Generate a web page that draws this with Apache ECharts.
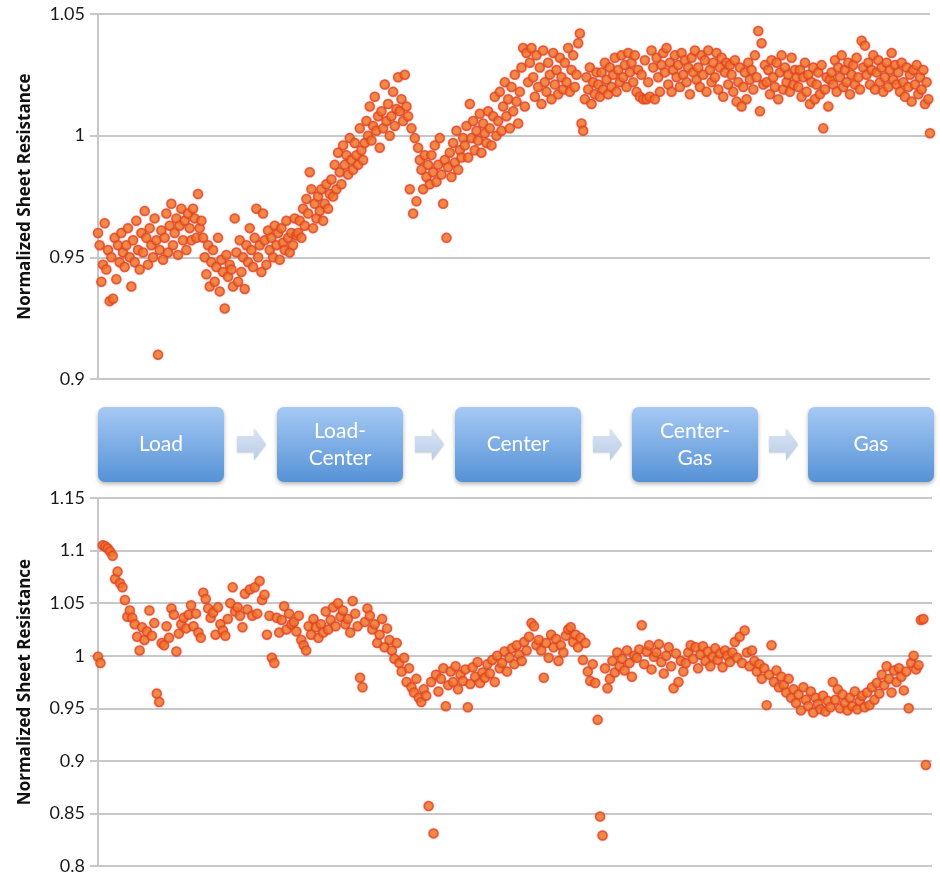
<!DOCTYPE html>
<html>
<head>
<meta charset="utf-8">
<script src="https://cdn.jsdelivr.net/npm/echarts@6/dist/echarts.min.js"></script>
<style>
  html, body { margin: 0; padding: 0; background: #ffffff; }
  #chart { width: 940px; height: 879px; }
</style>
</head>
<body>
<div id="chart"></div>
<script>
// Sheet resistance (normalized) through the process sequence, two runs.
const axisTitle = 'Normalized Sheet Resistance';
const stages = ['Load', 'Load-\nCenter', 'Center', 'Center-\nGas', 'Gas'];

const topTicks = [0.9, 0.95, 1, 1.05];
const bottomTicks = [0.8, 0.85, 0.9, 0.95, 1, 1.05, 1.1, 1.15];

// Run 1 samples, in acquisition order
const run1Values = [
  0.960, 0.955, 0.940, 0.947, 0.964, 0.945, 0.953, 0.932, 0.950, 0.933, 0.958, 0.941, 0.955, 0.948, 0.960, 0.952, 0.946, 0.955, 0.962, 0.950,
  0.938, 0.957, 0.948, 0.965, 0.953, 0.945, 0.960, 0.952, 0.969, 0.958, 0.947, 0.962, 0.955, 0.950, 0.966, 0.957, 0.910, 0.953, 0.961, 0.949,
  0.958, 0.968, 0.952, 0.963, 0.972, 0.955, 0.960, 0.966, 0.951, 0.963, 0.970, 0.957, 0.965, 0.953, 0.968, 0.962, 0.957, 0.970, 0.966, 0.958,
  0.976, 0.962, 0.965, 0.958, 0.950, 0.943, 0.955, 0.938, 0.948, 0.953, 0.940, 0.946, 0.958, 0.936, 0.949, 0.944, 0.929, 0.951, 0.942, 0.947,
  0.945, 0.938, 0.966, 0.952, 0.940, 0.957, 0.944, 0.950, 0.937, 0.955, 0.948, 0.962, 0.953, 0.946, 0.958, 0.970, 0.950, 0.955, 0.944, 0.968,
  0.957, 0.947, 0.961, 0.953, 0.958, 0.950, 0.963, 0.955, 0.960, 0.949, 0.962, 0.956, 0.953, 0.965, 0.958, 0.952, 0.960, 0.955, 0.966, 0.959,
  0.960, 0.965, 0.958, 0.970, 0.963, 0.974, 0.968, 0.985, 0.978, 0.962, 0.972, 0.966, 0.975, 0.969, 0.978, 0.965, 0.972, 0.980, 0.970, 0.976,
  0.982, 0.975, 0.988, 0.978, 0.993, 0.985, 0.980, 0.996, 0.988, 0.992, 0.984, 0.999, 0.990, 0.986, 0.997, 0.992, 0.988, 1.003, 0.994, 0.990,
  0.997, 1.006, 1.000, 1.012, 0.998, 1.004, 1.016, 1.002, 1.008, 0.995, 1.010, 1.003, 1.021, 1.006, 1.013, 1.000, 1.008, 1.018, 1.004, 1.011,
  1.024, 1.010, 1.015, 1.006, 1.025, 1.012, 1.008, 0.978, 1.003, 0.968, 0.999, 0.973, 0.995, 0.990, 0.986, 0.978, 0.992, 0.983, 0.988, 0.980,
  0.992, 0.985, 0.996, 0.981, 0.988, 0.999, 0.984, 0.972, 0.990, 0.958, 0.987, 0.993, 0.983, 0.997, 0.989, 1.002, 0.986, 0.994, 0.991, 0.999,
  0.996, 1.004, 0.991, 1.013, 0.999, 1.006, 0.994, 1.002, 0.998, 1.009, 0.993, 1.005, 1.001, 0.997, 1.010, 1.003, 0.996, 1.008, 1.016, 1.000,
  1.006, 1.018, 1.002, 1.012, 1.022, 1.008, 1.015, 1.003, 1.020, 1.010, 1.025, 1.014, 1.005, 1.018, 1.028, 1.036, 1.012, 1.034, 1.022, 1.030,
  1.036, 1.024, 1.016, 1.033, 1.020, 1.028, 1.013, 1.035, 1.022, 1.018, 1.030, 1.025, 1.015, 1.034, 1.021, 1.027, 1.017, 1.032, 1.024, 1.019,
  1.030, 1.022, 1.036, 1.018, 1.027, 1.033, 1.020, 1.025, 1.038, 1.042, 1.005, 1.002, 1.015, 1.024, 1.019, 1.028, 1.013, 1.022, 1.017, 1.026,
  1.021, 1.016, 1.026, 1.019, 1.030, 1.023, 1.017, 1.028, 1.020, 1.025, 1.032, 1.018, 1.027, 1.022, 1.033, 1.024, 1.029, 1.020, 1.034, 1.026,
  1.030, 1.022, 1.033, 1.018, 1.027, 1.016, 1.025, 1.015, 1.031, 1.015, 1.022, 1.016, 1.035, 1.028, 1.015, 1.032, 1.024, 1.018, 1.029, 1.034,
  1.026, 1.036, 1.021, 1.030, 1.018, 1.027, 1.033, 1.024, 1.029, 1.020, 1.034, 1.025, 1.031, 1.022, 1.028, 1.017, 1.032, 1.026, 1.035, 1.023,
  1.028, 1.020, 1.033, 1.025, 1.031, 1.018, 1.035, 1.027, 1.022, 1.030, 1.024, 1.034, 1.019, 1.028, 1.032, 1.016, 1.026, 1.030, 1.021, 1.029,
  1.025, 1.018, 1.031, 1.014, 1.022, 1.028, 1.012, 1.020, 1.026, 1.015, 1.030, 1.023, 1.027, 1.019, 1.033, 1.024, 1.043, 1.010, 1.038, 1.021,
  1.029, 1.022, 1.027, 1.017, 1.031, 1.024, 1.020, 1.030, 1.015, 1.026, 1.033, 1.019, 1.028, 1.022, 1.025, 1.018, 1.032, 1.021, 1.027, 1.024,
  1.020, 1.027, 1.016, 1.024, 1.030, 1.018, 1.025, 1.013, 1.022, 1.028, 1.015, 1.021, 1.026, 1.017, 1.029, 1.003, 1.019, 1.024, 1.012, 1.023,
  1.026, 1.021, 1.031, 1.018, 1.028, 1.024, 1.033, 1.020, 1.027, 1.022, 1.030, 1.017, 1.025, 1.029, 1.021, 1.032, 1.024, 1.019, 1.039, 1.028,
  1.037, 1.025, 1.030, 1.021, 1.027, 1.033, 1.019, 1.026, 1.031, 1.022, 1.028, 1.018, 1.024, 1.030, 1.020, 1.027, 1.034, 1.023, 1.029, 1.021,
  1.026, 1.018, 1.030, 1.022, 1.016, 1.028, 1.020, 1.025, 1.014, 1.027, 1.021, 1.029, 1.017, 1.024, 1.019, 1.027, 1.013, 1.022, 1.015, 1.001
];

// Run 2 samples, in acquisition order
const run2Values = [
  0.999, 0.993, 1.105, 1.104, 1.102, 1.099, 1.095, 1.073, 1.080, 1.069, 1.065, 1.053, 1.037, 1.043, 1.036, 1.030, 1.018, 1.005, 1.027, 1.015,
  1.023, 1.043, 1.019, 1.031, 0.964, 0.956, 1.012, 1.010, 1.028, 1.017, 1.045, 1.039, 1.004, 1.021, 1.030, 1.036, 1.026, 1.039, 1.048, 1.028,
  1.040, 1.022, 1.017, 1.060, 1.054, 1.045, 1.036, 1.041, 1.020, 1.046, 1.030, 1.024, 1.019, 1.035, 1.050, 1.065, 1.042, 1.046, 1.038, 1.027,
  1.059, 1.044, 1.063, 1.038, 1.065, 1.040, 1.071, 1.053, 1.058, 1.020, 1.038, 0.998, 0.993, 1.036, 1.022, 1.034, 1.047, 1.025, 1.040, 1.030,
  1.032, 1.023, 1.038, 1.015, 1.010, 1.005, 1.028, 1.020, 1.035, 1.027, 1.017, 1.030, 1.022, 1.042, 1.025, 1.034, 1.046, 1.028, 1.050, 1.037,
  1.043, 1.030, 1.035, 1.022, 1.052, 1.040, 1.028, 0.979, 0.970, 1.032, 1.045, 1.038, 1.025, 1.030, 1.012, 1.020, 1.035, 1.008, 1.026, 1.015,
  1.005, 0.997, 1.012, 0.993, 0.985, 0.998, 0.975, 0.988, 0.970, 0.965, 0.978, 0.960, 0.956, 0.968, 0.962, 0.857, 0.975, 0.831, 0.982, 0.966,
  0.978, 0.988, 0.952, 0.972, 0.985, 0.975, 0.990, 0.968, 0.982, 0.976, 0.987, 0.951, 0.973, 0.989, 0.980, 0.994, 0.974, 0.984, 0.979, 0.992,
  0.983, 0.996, 0.975, 1.000, 0.988, 0.993, 1.004, 0.985, 0.998, 1.007, 0.992, 1.010, 1.001, 0.995, 1.013, 1.005, 1.018, 1.031, 1.028, 1.010,
  1.015, 1.005, 0.979, 1.012, 0.998, 1.020, 1.008, 1.016, 0.995, 1.010, 1.003, 1.019, 1.025, 1.027, 1.013, 1.020, 1.008, 1.017, 0.996, 1.012,
  0.985, 0.976, 0.992, 0.974, 0.939, 0.847, 0.829, 0.988, 0.969, 0.978, 0.995, 0.984, 1.003, 0.990, 0.997, 0.986, 1.005, 0.993, 0.980, 1.000,
  0.998, 1.006, 1.029, 0.992, 1.004, 1.010, 0.987, 0.999, 1.003, 1.011, 0.994, 0.983, 1.000, 1.008, 0.990, 0.969, 1.002, 0.975, 0.995, 0.985,
  0.993, 1.003, 1.010, 0.997, 1.008, 0.988, 1.001, 1.009, 0.995, 1.004, 0.990, 0.999, 1.007, 0.996, 1.002, 0.989, 1.005, 1.000, 0.994, 1.003,
  1.013, 0.998, 1.018, 0.993, 1.024, 1.003, 0.990, 1.005, 0.995, 0.985, 0.992, 0.978, 0.988, 0.953, 0.982, 1.010, 0.975, 0.986, 0.970, 0.980,
  0.972, 0.965, 0.978, 0.960, 0.968, 0.955, 0.963, 0.948, 0.970, 0.958, 0.952, 0.966, 0.946, 0.960, 0.954, 0.949, 0.962, 0.947, 0.957, 0.951,
  0.975, 0.958, 0.968, 0.950, 0.963, 0.955, 0.948, 0.960, 0.952, 0.966, 0.949, 0.957, 0.962, 0.951, 0.965, 0.953, 0.970, 0.958, 0.974, 0.964,
  0.982, 0.972, 0.990, 0.978, 0.965, 0.986, 0.975, 0.988, 0.980, 0.967, 0.985, 0.950, 0.993, 1.000, 0.987, 0.991, 1.034, 1.035, 0.896
];

const gridColor = '#c8c8c8';
const labelFont = 'Lato, "Open Sans", sans-serif';

function yAxisFor(gridIndex, min, max) {
  return {
    gridIndex: gridIndex,
    type: 'value',
    min: min,
    max: max,
    interval: 0.05,
    name: axisTitle,
    nameLocation: 'middle',
    nameGap: 63,
    nameTextStyle: { fontFamily: '"Open Sans", sans-serif', fontWeight: 'bold', fontSize: 17, color: '#111' },
    axisLine: { show: true, lineStyle: { color: gridColor, width: 2 } },
    axisTick: { show: true, length: 8, lineStyle: { color: gridColor, width: 2 } },
    axisLabel: {
      margin: 12,
      fontFamily: labelFont, fontSize: 18, color: '#1a1a1a',
      formatter: function (v) { return String(parseFloat(v.toFixed(2))); }
    },
    splitLine: { show: true, lineStyle: { color: gridColor, width: 2 } }
  };
}

function toPoints(values) {
  return values.map(function (v, i) { return [i, v]; });
}

const markerStyle = {
  color: '#f47a28',
  borderColor: '#e4432a',
  borderWidth: 1.5,
  shadowColor: 'rgba(200,60,30,0.35)',
  shadowBlur: 2
};

// Process-step boxes and arrows between the two plots
const boxX = [98, 277, 455, 632, 808];
const boxY = 407, boxW = 126, boxH = 75;
const arrowX = [237, 415, 593, 769];

const graphics = [];
stages.forEach(function (label, i) {
  graphics.push({
    type: 'rect',
    shape: { x: boxX[i], y: boxY, width: boxW, height: boxH, r: 7 },
    style: {
      fill: new echarts.graphic.LinearGradient(0, 0, 0, 1, [
        { offset: 0, color: '#a6c9f4' },
        { offset: 1, color: '#5592d6' }
      ]),
      shadowBlur: 4, shadowOffsetY: 2, shadowColor: 'rgba(0,0,0,0.3)'
    },
    z: 10
  });
  graphics.push({
    type: 'text',
    x: boxX[i] + boxW / 2,
    y: boxY + boxH / 2,
    style: {
      text: label,
      fill: '#ffffff',
      font: '21px ' + labelFont,
      align: 'center',
      verticalAlign: 'middle',
      lineHeight: 27
    },
    z: 11
  });
});
arrowX.forEach(function (ax) {
  graphics.push({
    type: 'polygon',
    shape: { points: [[ax, 436], [ax + 17, 436], [ax + 17, 428], [ax + 29, 444], [ax + 17, 460], [ax + 17, 452], [ax, 452]] },
    style: {
      fill: new echarts.graphic.LinearGradient(0, 0, 0, 1, [
        { offset: 0, color: '#dbe5f4' },
        { offset: 1, color: '#b8cce8' }
      ]),
      shadowBlur: 2, shadowOffsetY: 1, shadowColor: 'rgba(0,0,0,0.2)'
    },
    z: 10
  });
});

const chart = echarts.init(document.getElementById('chart'), null, { renderer: 'canvas' });
chart.setOption({
  backgroundColor: '#ffffff',
  animation: false,
  grid: [
    { left: 97, top: 14, width: 833, height: 365 },
    { left: 97, top: 498, width: 835, height: 368 }
  ],
  xAxis: [
    { gridIndex: 0, type: 'value', min: -0.6, max: run1Values.length - 1, show: false },
    { gridIndex: 1, type: 'value', min: -0.4, max: run2Values.length + 1.5, show: false }
  ],
  yAxis: [
    yAxisFor(0, topTicks[0], topTicks[topTicks.length - 1]),
    yAxisFor(1, bottomTicks[0], bottomTicks[bottomTicks.length - 1])
  ],
  series: [
    {
      type: 'scatter', xAxisIndex: 0, yAxisIndex: 0,
      symbol: 'circle', symbolSize: 9,
      itemStyle: markerStyle,
      data: toPoints(run1Values)
    },
    {
      type: 'scatter', xAxisIndex: 1, yAxisIndex: 1,
      symbol: 'circle', symbolSize: 9,
      itemStyle: markerStyle,
      data: toPoints(run2Values)
    }
  ],
  graphic: graphics
});
</script>
</body>
</html>
